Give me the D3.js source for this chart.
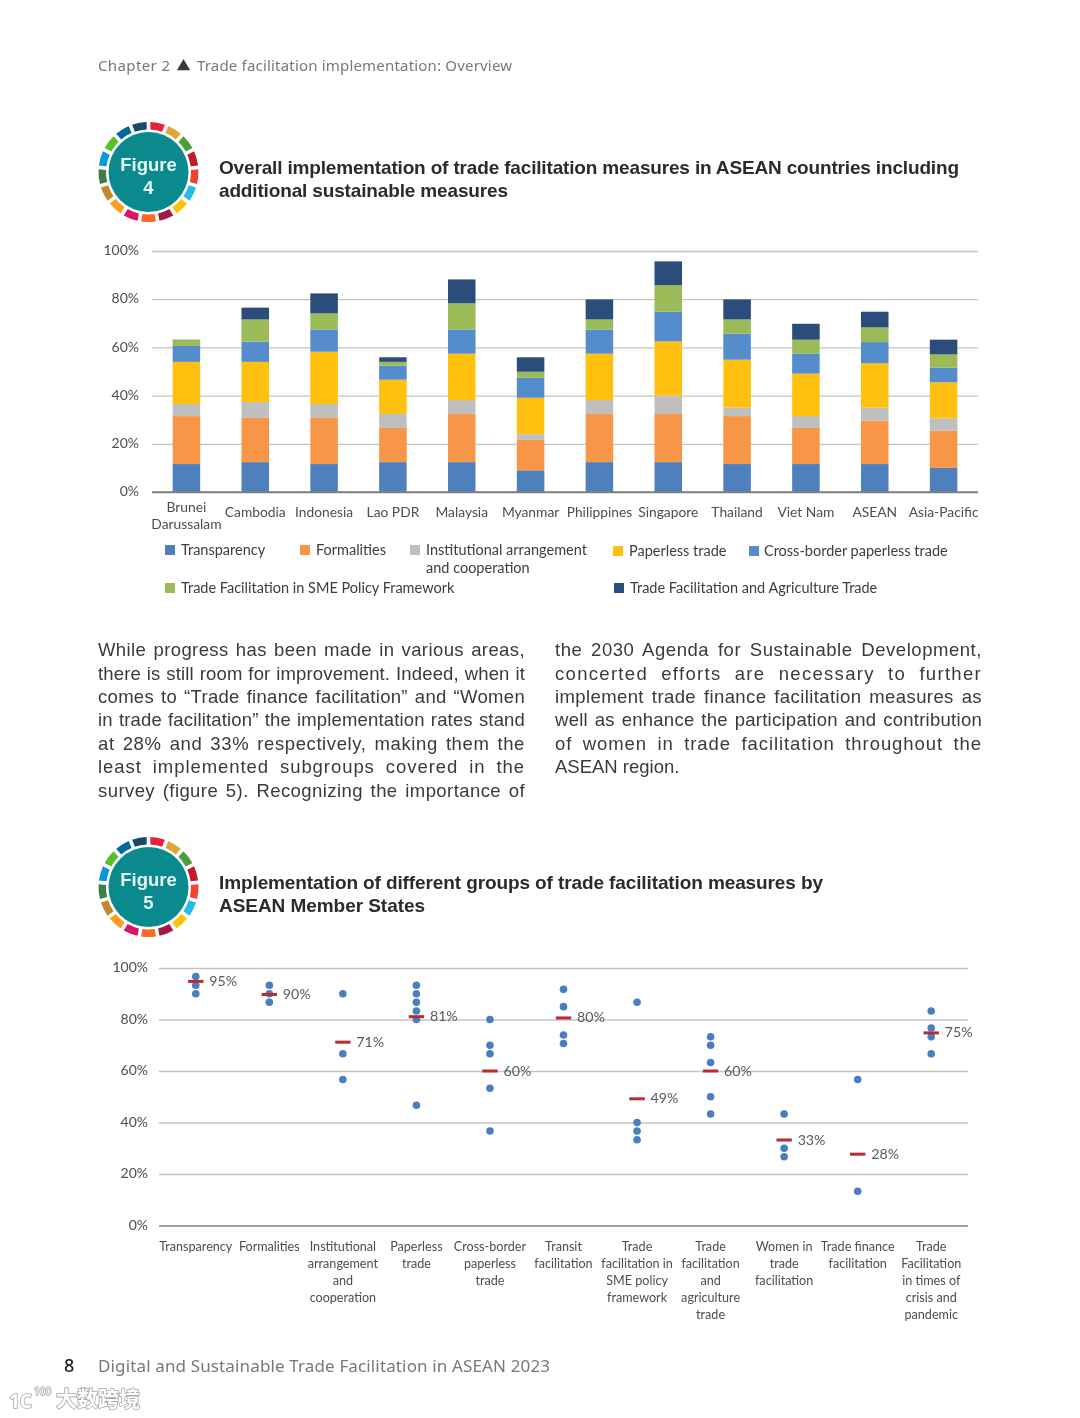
<!DOCTYPE html>
<html><head><meta charset="utf-8">
<script src="https://cdnjs.cloudflare.com/ajax/libs/d3/7.8.5/d3.min.js"></script>
<style>html,body{margin:0;padding:0;background:#fff}svg{display:block;filter:blur(0.35px)}</style>
</head><body><svg id="page" width="1080" height="1418"></svg>
<script>
// ---------- Figure 4 data ----------
const countries = [["Brunei","Darussalam"],["Cambodia"],["Indonesia"],["Lao PDR"],["Malaysia"],["Myanmar"],["Philippines"],["Singapore"],["Thailand"],["Viet Nam"],["ASEAN"],["Asia-Pacific"]];
const transparency   = [11.6,12.4,11.6,12.4,12.4, 9.0,12.4,12.4,11.6,11.6,11.6,10.0];
const formalities    = [19.9,18.4,19.2,14.2,20.0,12.6,20.0,20.0,19.9,15.0,18.0,15.4];
const institutional  = [ 5.0, 6.5, 5.7, 5.8, 5.8, 2.4, 5.8, 7.6, 3.5, 4.9, 5.4, 5.2];
const paperless      = [17.5,16.7,21.7,14.2,19.2,15.1,19.2,22.5,19.9,17.6,18.4,14.9];
const crossBorder    = [ 6.6, 8.4, 9.2, 5.8,10.0, 8.3,10.0,12.3,10.8, 8.3, 8.8, 6.1];
const smePolicy      = [ 2.7, 9.2, 6.7, 1.6,10.9, 2.5, 4.2,11.0, 5.9, 5.8, 6.1, 5.5];
const agriculture    = [ 0.0, 4.9, 8.3, 1.9, 9.9, 6.0, 8.3, 9.9, 8.3, 6.6, 6.5, 6.1];
const seriesNames = ["Transparency","Formalities","Institutional arrangement and cooperation","Paperless trade","Cross-border paperless trade","Trade Facilitation in SME Policy Framework","Trade Facilitation and Agriculture Trade"];
const seriesColors = ["#4e80bd","#f79646","#bfbfbf","#ffc010","#558ccb","#9bbb59","#2b4d7b"];
const seriesValues = [transparency,formalities,institutional,paperless,crossBorder,smePolicy,agriculture];
const yTicks = [0,20,40,60,80,100];

// ---------- Figure 5 data ----------
const groups = [["Transparency"],["Formalities"],["Institutional","arrangement","and","cooperation"],["Paperless","trade"],["Cross-border","paperless","trade"],["Transit","facilitation"],["Trade","facilitation in","SME policy","framework"],["Trade","facilitation","and","agriculture","trade"],["Women in","trade","facilitation"],["Trade finance","facilitation"],["Trade","Facilitation","in times of","crisis and","pandemic"]];
const groupPoints = [[96.7,93.3,90],[93.3,90,86.7],[90,66.7,56.7],[93.3,90,86.7,83.3,80,46.7],[80,70,66.7,53.3,36.7],[91.7,85,74,70.7],[86.7,40,36.7,33.3],[73.3,70,63.3,50,43.3],[43.3,30,26.7],[56.7,13.3],[83.3,76.7,73.3,66.7]];
const groupMeans = [94.8,89.7,71.2,81.1,60,80.6,49.2,60,33.2,27.7,74.8];
const meanLabels = ["95%","90%","71%","81%","60%","80%","49%","60%","33%","28%","75%"];

// ---------- Text ----------
const leftColumn = ["While progress has been made in various areas,","there is still room for improvement. Indeed, when it","comes to “Trade finance facilitation” and “Women","in trade facilitation” the implementation rates stand","at 28% and 33% respectively, making them the","least implemented subgroups covered in the","survey (figure 5). Recognizing the importance of"];
const rightColumn = ["the 2030 Agenda for Sustainable Development,","concerted efforts are necessary to further","implement trade finance facilitation measures as","well as enhance the participation and contribution","of women in trade facilitation throughout the","ASEAN region."];
const sdgColors = ["#e5243b","#dda63a","#4c9f38","#c5192d","#f0442c","#26bde2","#fcc30b","#a21942","#fd6925","#dd1367","#fd9d24","#bf8b2e","#3f7e44","#0a97d9","#56c02b","#00689d","#19486a"];

const svg = d3.select("#page");
const UI = "'Noto Sans', sans-serif";
const BODY = "'Liberation Sans', Arial, sans-serif";
const CHART = "Lato, 'Noto Sans', sans-serif";

function fit(sel, width){
  const n = sel.text().length, w = sel.node().getComputedTextLength();
  sel.attr("letter-spacing", ((width-w)/(n-1)).toFixed(3));
  return sel;
}
function label(x,y,t,size,color,font,weight){
  return svg.append("text").attr("x",x).attr("y",y).text(t)
    .attr("font-size",size).attr("fill",color).attr("font-family",font).attr("font-weight",weight||400);
}

// Header / footer
fit(label(98,71,"Chapter 2",15,"#77787b",UI),72);
svg.append("path").attr("d",d3.symbol(d3.symbolTriangle,75)()).attr("transform","translate(183.5,66.5)").attr("fill","#3a3a3c");
fit(label(197,71,"Trade facilitation implementation: Overview",15,"#77787b",UI),315);
label(64,1372,"8",18,"#222",UI,500);
fit(label(98,1372,"Digital and Sustainable Trade Facilitation in ASEAN 2023",17,"#77787b",UI),452);

// Badges
function badge(cy,num){
  const g = svg.append("g").attr("transform",`translate(148.5,${cy})`);
  const arcs = d3.pie().value(1).sort(null).padAngle(0.055)(sdgColors);
  g.selectAll("path").data(arcs).join("path")
    .attr("d",d3.arc().innerRadius(42.5).outerRadius(50))
    .attr("fill",d=>d.data);
  g.append("circle").attr("r",40).attr("fill","#0a8a8c");
  g.append("text").attr("y",-1).attr("text-anchor","middle").text("Figure")
    .attr("font-family",BODY).attr("font-weight",700).attr("font-size",18.5).attr("fill","#e8f6f5");
  g.append("text").attr("y",22).attr("text-anchor","middle").text(num)
    .attr("font-family",BODY).attr("font-weight",700).attr("font-size",18.5).attr("fill","#e8f6f5");
}
badge(172,"4"); badge(887,"5");

// Titles
fit(label(219,174,"Overall implementation of trade facilitation measures in ASEAN countries including",19,"#2b2b2b",BODY,700),740);
fit(label(219,197,"additional sustainable measures",19,"#2b2b2b",BODY,700),289);
fit(label(219,889,"Implementation of different groups of trade facilitation measures by",19,"#2b2b2b",BODY,700),604);
fit(label(219,912,"ASEAN Member States",19,"#2b2b2b",BODY,700),206);

// Body columns
function column(lines,x,width,lastFree){
  lines.forEach((t,i)=>{
    const y = 656.4 + i*23.36;
    const s = label(x,y,t,18.5,"#3a3a3c",BODY);
    if(!(lastFree && i===lines.length-1)){
      const spaces = t.split(" ").length-1;
      const w = s.node().getComputedTextLength();
      const extra = width-w;
      const ls = Math.max(extra*0.6/(t.length-1),-0.2);
      s.attr("letter-spacing",ls.toFixed(3));
      const w2 = s.node().getComputedTextLength();
      s.attr("word-spacing",((width-w2)/spaces).toFixed(3));
    }
  });
}
column(leftColumn,98,427,false);
column(rightColumn,555,427,true);

// Shared axis helpers
function yAxis(y,x0,x1,labelX){
  const g = svg.append("g").attr("transform",`translate(${x0},0)`)
    .call(d3.axisLeft(y).tickValues(yTicks).tickFormat(d=>d+"%").tickSize(-(x1-x0)).tickPadding(x0-labelX));
  g.select(".domain").remove();
  g.selectAll(".tick line").attr("stroke",d=>d===0?"#808080":"#c4c4c4").attr("stroke-width",d=>d===0?1.6:1.3);
  g.selectAll(".tick text").attr("font-family",CHART).attr("font-size",14).attr("fill","#4d4d4d").attr("transform","translate(0,-0.8)");
}

// ---------- Figure 4 ----------
const x4 = d3.scaleBand().domain(d3.range(countries.length)).range([152,978]).paddingInner(0.6).paddingOuter(0.3);
const y4 = d3.scaleLinear().domain([0,100]).range([492,251]);
yAxis(y4,152,978,139);

const rows = countries.map((c,i)=>{const r={i};seriesNames.forEach((n,k)=>r[n]=seriesValues[k][i]);return r;});
const stacked = d3.stack().keys(seriesNames)(rows);
svg.append("g").selectAll("g").data(stacked).join("g").attr("fill",(d,k)=>seriesColors[k])
  .selectAll("rect").data(d=>d).join("rect")
  .attr("x",d=>x4(d.data.i)).attr("width",x4.bandwidth())
  .attr("y",d=>y4(d[1])).attr("height",d=>y4(d[0])-y4(d[1]));
svg.append("line").attr("x1",152).attr("x2",978).attr("y1",y4(0)).attr("y2",y4(0)).attr("stroke","#808080").attr("stroke-width",1.6);

const xa4 = svg.append("g").attr("transform","translate(0,492)").call(d3.axisBottom(x4).tickSize(0).tickFormat(""));
xa4.select(".domain").remove();
xa4.selectAll(".tick text").each(function(i){
  const t = d3.select(this), ls = countries[i];
  t.attr("y",null).attr("dy",null).attr("font-family",CHART).attr("font-size",13.8).attr("fill","#4d4d4d");
  ls.forEach((l,j)=>t.append("tspan").attr("x",0).attr("y",ls.length===1?25:(20+j*17)).text(l));
});

// Legend
const legendItems = [[165,550,181,["Transparency"]],[300,550,316,["Formalities"]],[410,550,426,["Institutional arrangement","and cooperation"]],[613,551,629,["Paperless trade"]],[749,551,764,["Cross-border paperless trade"]],[165,588,181,["Trade Facilitation in SME Policy Framework"]],[614,588,630,["Trade Facilitation and Agriculture Trade"]]];
legendItems.forEach((it,k)=>{
  svg.append("rect").attr("x",it[0]).attr("y",it[1]-5).attr("width",10).attr("height",10).attr("fill",seriesColors[k]);
  it[3].forEach((l,j)=>label(it[2],it[1]+5+j*17.5,l,14.5,"#3d3d3d",CHART));
});

// ---------- Figure 5 ----------
const x5 = d3.scaleBand().domain(d3.range(groups.length)).range([159,968]);
const y5 = d3.scaleLinear().domain([0,100]).range([1225.5,968]);
yAxis(y5,159,968,148);
const cx = i=>x5(i)+x5.bandwidth()/2;
const dots = groupPoints.flatMap((p,i)=>p.map(v=>({i,v})));
svg.append("g").selectAll("circle").data(dots).join("circle")
  .attr("cx",d=>cx(d.i)).attr("cy",d=>y5(d.v)).attr("r",3.8).attr("fill","#4a7ebf");
svg.append("g").selectAll("line").data(groupMeans).join("line")
  .attr("x1",(d,i)=>cx(i)-7.7).attr("x2",(d,i)=>cx(i)+7.7)
  .attr("y1",d=>y5(d)).attr("y2",d=>y5(d)).attr("stroke","#bd2a2e").attr("stroke-width",3);
svg.append("g").selectAll("text").data(meanLabels).join("text")
  .attr("x",(d,i)=>cx(i)+13.5).attr("y",(d,i)=>y5(groupMeans[i])+4.5)
  .text(d=>d).attr("font-family",CHART).attr("font-size",14.2).attr("fill","#5a5a5a");

const xa5 = svg.append("g").attr("transform","translate(0,1225.5)").call(d3.axisBottom(x5).tickSize(0).tickFormat(""));
xa5.select(".domain").remove();
xa5.selectAll(".tick text").each(function(i){
  const t = d3.select(this);
  t.attr("y",null).attr("dy",null).attr("font-family",CHART).attr("font-size",12.6).attr("fill","#4d4d4d");
  groups[i].forEach((l,j)=>t.append("tspan").attr("x",0).attr("y",25.5+j*17).text(l));
});

// Watermark
const wm = svg.append("g").attr("fill","#ffffff").attr("stroke","#a8a8a8").attr("stroke-width",1.6).attr("paint-order","stroke");
wm.append("text").attr("x",9).attr("y",1408).text("1C").attr("font-family",UI).attr("font-weight",700).attr("font-size",19);
wm.append("text").attr("x",34).attr("y",1395).text("100").attr("font-family",UI).attr("font-size",10);
wm.append("text").attr("x",56).attr("y",1406).text("大数跨境").attr("font-family","'Noto Sans CJK SC'").attr("font-weight",700).attr("font-size",21).attr("textLength",84);
</script></body></html>
